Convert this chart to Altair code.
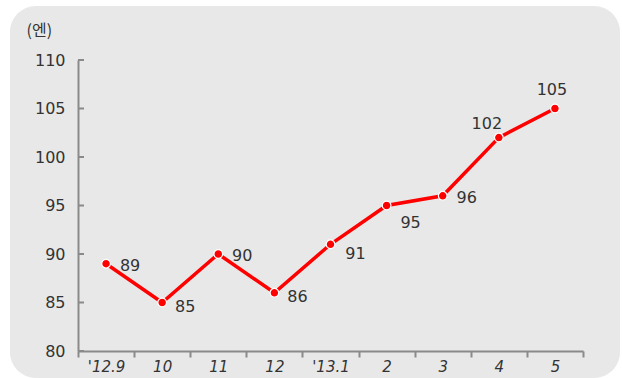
import altair as alt
import pandas as pd

months = ["'12.9", "10", "11", "12", "'13.1", "2", "3", "4", "5"]
yen = [89, 85, 90, 86, 91, 95, 96, 102, 105]
y_ticks = [80, 85, 90, 95, 100, 105, 110]

df = pd.DataFrame({"month": months, "yen": yen})
df["label"] = df["yen"].astype(str)
tick_df = pd.DataFrame({"t": y_ticks})

FONT = "DejaVu Sans"
AXIS_COLOR = "#8a8a8a"
TEXT_COLOR = "#333333"

xenc = alt.X("month:N", sort=months, scale=alt.Scale(paddingInner=0, paddingOuter=0),
             axis=alt.Axis(title=None, labelAngle=0, labelFont=FONT, labelFontSize=15,
                           labelFontStyle="italic", labelColor=TEXT_COLOR, domainColor=AXIS_COLOR,
                           domainWidth=2, tickColor=AXIS_COLOR, tickWidth=2, tickSize=6,
                           tickBand="extent", labelPadding=2, grid=False, zindex=1))
yscale = alt.Scale(domain=[80, 110], nice=False, zero=False)
yenc = alt.Y("yen:Q", scale=yscale,
             axis=alt.Axis(title="(엔)", titleAngle=0, titleX=-52, titleY=-25, titleAlign="left",
                           titleBaseline="alphabetic", titleFont="Noto Sans CJK KR", titleFontSize=16,
                           titleFontWeight="normal", titleColor=TEXT_COLOR,
                           values=y_ticks, labelFont=FONT, labelFontSize=16, labelColor=TEXT_COLOR,
                           ticks=False, labelPadding=13, domainColor=AXIS_COLOR, domainWidth=2,
                           grid=False, zindex=1))

base = alt.Chart(df)

panel = alt.Chart(pd.DataFrame({"a": [0]})).mark_rect(
    fill="#e8e8e8", cornerRadius=26
).encode(x=alt.value(-68), x2=alt.value(542), y=alt.value(-54), y2=alt.value(318))

inner_ticks = alt.Chart(tick_df).mark_rule(color=AXIS_COLOR, strokeWidth=2).encode(
    y=alt.Y("t:Q", scale=yscale), x=alt.value(0), x2=alt.value(6)
)

line = base.mark_line(color="#ff0000", strokeWidth=3.5).encode(x=xenc, y=yenc)
points = base.mark_point(filled=True, color="#ff0000", stroke="white", strokeWidth=1.2,
                         size=75, opacity=1, strokeOpacity=1).encode(
    x=alt.X("month:N", sort=months), y="yen:Q")

offsets = [
    (["'12.9", "11", "3"], 24, 2),
    (["10", "12"], 23, 4),
    (["'13.1"], 25, 10),
    (["2"], 24, 17),
    (["4"], -12, -14),
    (["5"], -3, -19),
]
text_layers = []
for group, dx, dy in offsets:
    text_layers.append(
        base.transform_filter(alt.FieldOneOfPredicate(field="month", oneOf=group))
        .mark_text(font=FONT, fontSize=16, color=TEXT_COLOR, dx=dx, dy=dy,
                   align="center", baseline="middle")
        .encode(x=alt.X("month:N", sort=months), y="yen:Q", text="label:N")
    )

chart = alt.layer(panel, line, inner_ticks, points, *text_layers).properties(
    width=505, height=291,
    autosize=alt.AutoSizeParams(type="none"),
    padding={"left": 78, "top": 60, "right": 39, "bottom": 27},
    background="white",
).configure_view(stroke=None)

chart.save("out.html", embed_options={"renderer": "svg", "actions": False})
